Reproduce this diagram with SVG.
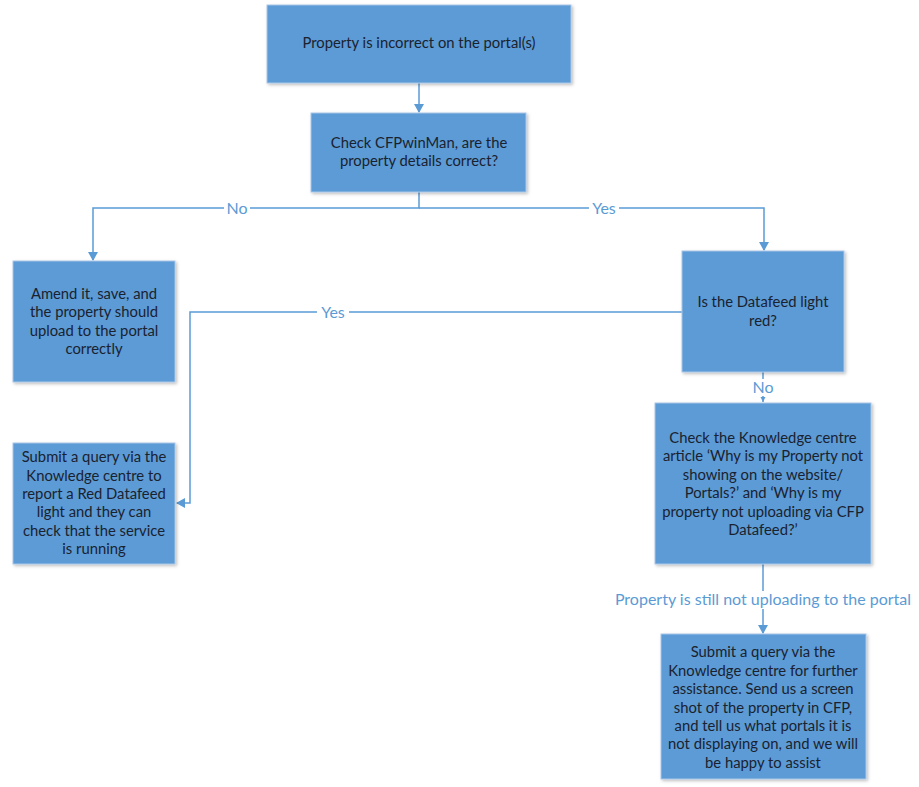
<svg xmlns="http://www.w3.org/2000/svg" width="919" height="787" viewBox="0 0 919 787">
<style>
.box{fill:#5B9BD5;stroke:#A9C6E8;stroke-width:1}
.t{font-family:Lato,"Open Sans","Liberation Sans",sans-serif;font-size:14.8px;fill:#1a2230;text-anchor:middle}
.ln{fill:none;stroke:#5B9BD5;stroke-width:1.5}
.lb{font-family:Lato,"Open Sans","Liberation Sans",sans-serif;font-size:16px;fill:#5B9BD5;text-anchor:middle}
.bg{fill:#ffffff}
</style>
<defs>
<marker id="ar" markerWidth="10" markerHeight="10" refX="8" refY="5" orient="auto" markerUnits="userSpaceOnUse">
<path d="M0,0 L9,5 L0,10 z" fill="#5B9BD5"/>
</marker>
<marker id="ars" markerWidth="6" markerHeight="6" refX="5" refY="3" orient="auto" markerUnits="userSpaceOnUse">
<path d="M0,0.5 L5,3 L0,5.5 z" fill="#5B9BD5"/>
</marker>
<filter id="sh" x="-5%" y="-5%" width="115%" height="115%">
<feDropShadow dx="1.5" dy="1.5" stdDeviation="1.5" flood-color="#000" flood-opacity="0.25"/>
</filter>
</defs>
<rect width="919" height="787" fill="#ffffff"/>
<g id="connectors">
<path class="ln" d="M419,83 V112" marker-end="url(#ar)"/>
<path class="ln" d="M419,192 V208 H93 V260" marker-end="url(#ar)"/>
<path class="ln" d="M419,208 H764 V250" marker-end="url(#ar)"/>
<path class="ln" d="M682,312 H190 V503 H177" marker-end="url(#ar)"/>
<path class="ln" d="M763,372 V402" marker-end="url(#ars)"/>
<path class="ln" d="M763,564 V633" marker-end="url(#ar)"/>
<rect class="bg" x="224" y="200" width="26" height="17"/>
<text class="lb" x="237" y="214">No</text>
<rect class="bg" x="589" y="200" width="30" height="17"/>
<text class="lb" x="604" y="214">Yes</text>
<rect class="bg" x="317" y="304" width="32" height="17"/>
<text class="lb" x="333" y="318">Yes</text>
<rect class="bg" x="749" y="379" width="28" height="17"/>
<text class="lb" x="763" y="393">No</text>
<rect class="bg" x="610" y="591" width="306" height="18"/>
<text class="lb" x="763" y="605">Property is still not uploading to the portal</text>
</g>
<g id="n1">
<rect class="box" x="267" y="5" width="304" height="78" filter="url(#sh)"/>
<text class="t" x="419" y="48">Property is incorrect on the portal(s)</text>
</g>
<g id="n2">
<rect class="box" x="311" y="113" width="215" height="79" filter="url(#sh)"/>
<text class="t" x="419" y="148">Check CFPwinMan, are the</text>
<text class="t" x="419" y="166">property details correct?</text>
</g>
<g id="n3">
<rect class="box" x="13" y="261" width="162" height="121" filter="url(#sh)"/>
<text class="t" x="94" y="299">Amend it, save, and</text>
<text class="t" x="94" y="317">the property should</text>
<text class="t" x="94" y="336">upload to the portal</text>
<text class="t" x="94" y="354">correctly</text>
</g>
<g id="n4">
<rect class="box" x="682" y="251" width="162" height="121" filter="url(#sh)"/>
<text class="t" x="763" y="307">Is the Datafeed light</text>
<text class="t" x="763" y="326">red?</text>
</g>
<g id="n5">
<rect class="box" x="13" y="443" width="162" height="121" filter="url(#sh)"/>
<text class="t" x="94" y="462">Submit a query via the</text>
<text class="t" x="94" y="481">Knowledge centre to</text>
<text class="t" x="94" y="499">report a Red Datafeed</text>
<text class="t" x="94" y="517">light and they can</text>
<text class="t" x="94" y="536">check that the service</text>
<text class="t" x="94" y="554">is running</text>
</g>
<g id="n6">
<rect class="box" x="655" y="403" width="216" height="161" filter="url(#sh)"/>
<text class="t" x="763" y="443">Check the Knowledge centre</text>
<text class="t" x="763" y="461">article ‘Why is my Property not</text>
<text class="t" x="763" y="480">showing on the website/</text>
<text class="t" x="763" y="498">Portals?’ and ‘Why is my</text>
<text class="t" x="763" y="517">property not uploading via CFP</text>
<text class="t" x="763" y="535">Datafeed?’</text>
</g>
<g id="n7">
<rect class="box" x="661" y="634" width="205" height="145" filter="url(#sh)"/>
<text class="t" x="763" y="657">Submit a query via the</text>
<text class="t" x="763" y="676">Knowledge centre for further</text>
<text class="t" x="763" y="694">assistance. Send us a screen</text>
<text class="t" x="763" y="713">shot of the property in CFP,</text>
<text class="t" x="763" y="731">and tell us what portals it is</text>
<text class="t" x="763" y="749">not displaying on, and we will</text>
<text class="t" x="763" y="768">be happy to assist</text>
</g>
</svg>
